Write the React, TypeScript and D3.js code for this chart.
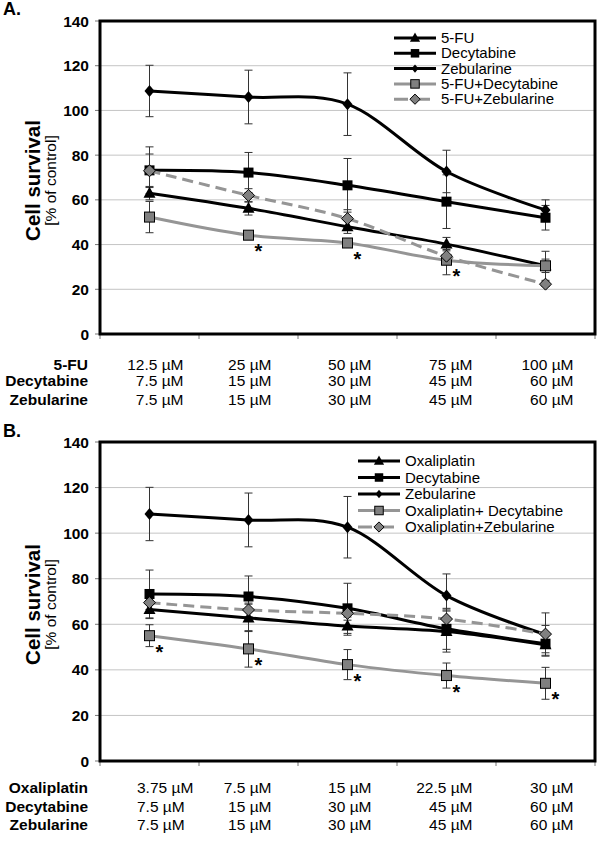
import React from "react";
import * as d3 from "d3";

// ---------- Data ----------
const dosesFU = ["12.5 µM", "25 µM", "50 µM", "75 µM", "100 µM"];
const dosesOxa = ["3.75 µM", "7.5 µM", "15 µM", "22.5 µM", "30 µM"];
const dosesDec = ["7.5 µM", "15 µM", "30 µM", "45 µM", "60 µM"];
const dosesZeb = ["7.5 µM", "15 µM", "30 µM", "45 µM", "60 µM"];

const yTicks = [0, 20, 40, 60, 80, 100, 120, 140];

// Panel A
const aNames = ["5-FU", "Decytabine", "Zebularine", "5-FU+Decytabine", "5-FU+Zebularine"];
const aFU = [63, 56.2, 48, 40.2, 30.5];
const aFUErr = [3, 3, 3, 3, 3];
const aDec = [73.2, 72.2, 66.5, 59.2, 52];
const aDecErr = [10.5, 9, 12, 12, 5.5];
const aZeb = [108.7, 106, 102.8, 72.7, 55.5];
const aZebErr = [11.5, 12, 14, 9.5, 4.5];
const aFUDec = [52.3, 44.2, 40.7, 33, 30.5];
const aFUDecErr = [7, 1.5, 1.5, 6.5, 6.5];
const aFUZeb = [73, 62, 51.6, 34.8, 22.3];
const aFUZebErr = [7.5, 3, 4, 3, 1];
const aStars = [false, true, true, true, false];

// Panel B
const bNames = ["Oxaliplatin", "Decytabine", "Zebularine", "Oxaliplatin+ Decytabine", "Oxaliplatin+Zebularine"];
const bOxa = [66.5, 62.8, 59.2, 56.8, 51];
const bOxaErr = [4, 6, 4, 9, 5];
const bDec = [73.3, 72.2, 67, 58, 51.5];
const bDecErr = [10.5, 9, 11, 9, 4];
const bZeb = [108.4, 105.8, 102.6, 72.6, 55.5];
const bZebErr = [11.7, 11.8, 13.5, 9.5, 4];
const bOxaDec = [55, 49.2, 42.3, 37.5, 34.1];
const bOxaDecErr = [4.8, 8, 6.6, 5.5, 7];
const bOxaZeb = [69.5, 66.3, 64.8, 62.3, 55.7];
const bOxaZebErr = [3, 3, 3, 4, 9.3];
const bStars = [true, true, true, true, true];

// ---------- Styles ----------
const FONT = "'Liberation Sans', Arial, Helvetica, sans-serif";
const GRAY_LINE = "#959595";
const GRAY_FILL = "#808080";

type Marker = "tri" | "sq" | "dia" | "gsq" | "gdia";
interface Series {
  name: string;
  values: number[];
  errs: number[];
  marker: Marker;
  color: string;
  dash?: string;
}

function MarkerShape({ kind, x, y, s = 1 }: { kind: Marker; x: number; y: number; s?: number }) {
  if (kind === "tri") {
    const p = `M${x},${y - 6.5 * s}L${x + 6 * s},${y + 4.5 * s}L${x - 6 * s},${y + 4.5 * s}Z`;
    return <path d={p} fill="#000" />;
  }
  if (kind === "sq") {
    const h = 5 * s;
    return <rect x={x - h} y={y - h} width={2 * h} height={2 * h} fill="#000" />;
  }
  if (kind === "dia") {
    const p = `M${x},${y - 6 * s}L${x + 5 * s},${y}L${x},${y + 6 * s}L${x - 5 * s},${y}Z`;
    return <path d={p} fill="#000" />;
  }
  if (kind === "gsq") {
    const h = 5 * s;
    return <rect x={x - h} y={y - h} width={2 * h} height={2 * h} fill={GRAY_FILL} stroke="#000" strokeWidth={1} />;
  }
  const p = `M${x},${y - 6 * s}L${x + 6 * s},${y}L${x},${y + 6 * s}L${x - 6 * s},${y}Z`;
  return <path d={p} fill={GRAY_FILL} stroke="#000" strokeWidth={1} />;
}

interface PanelProps {
  letter: string;
  letterY: number;
  top: number;
  bottom: number;
  series: Series[];
  starSeries: number;
  stars: boolean[];
  legendX: number;
  legendY: number;
  legendStep: number;
  tableRows: { label: string; vals: string[] }[];
  tableY: number[];
  firstColStart: boolean;
}

function Panel(p: PanelProps) {
  const left = 100;
  const right = 595;
  const x = d3.scaleBand<number>().domain(d3.range(5)).range([left, right]);
  const cx = (i: number) => (x(i) as number) + x.bandwidth() / 2;
  const y = d3.scaleLinear().domain([0, 140]).range([p.bottom, p.top]);
  const line = d3
    .line<number>()
    .x((_, i) => cx(i))
    .y((d) => y(d))
    .curve(d3.curveCardinal.tension(0));
  const colOffsets = [34, 23, 24, 26, 28];
  const midY = (p.top + p.bottom) / 2 + 3;
  const ss = p.series[p.starSeries];

  return (
    <g>
      <text x={3} y={p.letterY} fontFamily={FONT} fontWeight="bold" fontSize={18}>
        {p.letter}
      </text>
      {/* grid */}
      {yTicks.map((t) => (
        <g key={t}>
          {t > 0 && t < 140 && (
            <line x1={left} x2={right} y1={y(t)} y2={y(t)} stroke="#c4c4c4" strokeWidth={1} />
          )}
          <line x1={left - 5} x2={left} y1={y(t)} y2={y(t)} stroke="#777" strokeWidth={1} />
          <text
            x={89}
            y={y(t) + 5.5}
            textAnchor="end"
            fontFamily={FONT}
            fontWeight="bold"
            fontSize={15.5}
          >
            {t}
          </text>
        </g>
      ))}
      {d3.range(6).map((i) => {
        const xx = i < 5 ? (x(i) as number) : right;
        return <line key={i} x1={xx} x2={xx} y1={p.bottom} y2={p.bottom + 5} stroke="#777" strokeWidth={1} />;
      })}
      {/* y title */}
      <g transform={`translate(40,${midY}) rotate(-90)`}>
        <text textAnchor="middle" fontFamily={FONT} fontWeight="bold" fontSize={20.5}>
          Cell survival
        </text>
      </g>
      <g transform={`translate(56,${midY}) rotate(-90)`}>
        <text textAnchor="middle" fontFamily={FONT} fontSize={15.5}>
          [% of control]
        </text>
      </g>
      {/* error bars */}
      {p.series.map((s, si) =>
        s.values.map((v, i) => {
          const xx = cx(i);
          const y1 = y(v - s.errs[i]);
          const y2 = y(v + s.errs[i]);
          return (
            <g key={`${si}-${i}`} stroke="#333" strokeWidth={1}>
              <line x1={xx} x2={xx} y1={y1} y2={y2} />
              <line x1={xx - 4} x2={xx + 4} y1={y1} y2={y1} />
              <line x1={xx - 4} x2={xx + 4} y1={y2} y2={y2} />
            </g>
          );
        })
      )}
      {/* lines + markers */}
      {p.series.map((s, si) => (
        <g key={si}>
          <path
            d={line(s.values) as string}
            fill="none"
            stroke={s.color}
            strokeWidth={3}
            strokeDasharray={s.dash}
          />
          {s.values.map((v, i) => (
            <MarkerShape key={i} kind={s.marker} x={cx(i)} y={y(v)} />
          ))}
        </g>
      ))}
      {/* significance stars */}
      {p.stars.map((st, i) =>
        st ? (
          <text
            key={i}
            x={cx(i) + 10}
            y={y(ss.values[i]) + 23}
            textAnchor="middle"
            fontFamily={FONT}
            fontWeight="bold"
            fontSize={20}
          >
            *
          </text>
        ) : null
      )}
      {/* frame */}
      <rect
        x={left}
        y={p.top}
        width={right - left}
        height={p.bottom - p.top}
        fill="none"
        stroke="#000"
        strokeWidth={3}
      />
      {/* legend */}
      {p.series.map((s, si) => {
        const ly = p.legendY + si * p.legendStep;
        return (
          <g key={si}>
            <line
              x1={p.legendX}
              x2={p.legendX + 42}
              y1={ly}
              y2={ly}
              stroke={s.color}
              strokeWidth={3}
              strokeDasharray={s.dash ? "14,8" : undefined}
            />
            <MarkerShape kind={s.marker} x={p.legendX + 21} y={ly} s={s.marker === "dia" ? 0.7 : 0.85} />
            <text x={p.legendX + 47} y={ly + 5} fontFamily={FONT} fontSize={15}>
              {s.name}
            </text>
          </g>
        );
      })}
      {/* dose table */}
      {p.tableRows.map((r, ri) => (
        <g key={ri}>
          <text
            x={88}
            y={p.tableY[ri]}
            textAnchor="end"
            fontFamily={FONT}
            fontWeight="bold"
            fontSize={15.5}
          >
            {r.label}
          </text>
          {r.vals.map((v, i) => {
            const start = i === 0 && p.firstColStart;
            return (
              <text
                key={i}
                x={start ? cx(i) - 12.5 : cx(i) + colOffsets[i]}
                y={p.tableY[ri]}
                textAnchor={start ? "start" : "end"}
                fontFamily={FONT}
                fontSize={15.5}
              >
                {v}
              </text>
            );
          })}
        </g>
      ))}
    </g>
  );
}

export default function App() {
  const seriesA: Series[] = [
    { name: aNames[0], values: aFU, errs: aFUErr, marker: "tri", color: "#000" },
    { name: aNames[1], values: aDec, errs: aDecErr, marker: "sq", color: "#000" },
    { name: aNames[2], values: aZeb, errs: aZebErr, marker: "dia", color: "#000" },
    { name: aNames[3], values: aFUDec, errs: aFUDecErr, marker: "gsq", color: GRAY_LINE },
    { name: aNames[4], values: aFUZeb, errs: aFUZebErr, marker: "gdia", color: GRAY_LINE, dash: "11,6" },
  ];
  const seriesB: Series[] = [
    { name: bNames[0], values: bOxa, errs: bOxaErr, marker: "tri", color: "#000" },
    { name: bNames[1], values: bDec, errs: bDecErr, marker: "sq", color: "#000" },
    { name: bNames[2], values: bZeb, errs: bZebErr, marker: "dia", color: "#000" },
    { name: bNames[3], values: bOxaDec, errs: bOxaDecErr, marker: "gsq", color: GRAY_LINE },
    { name: bNames[4], values: bOxaZeb, errs: bOxaZebErr, marker: "gdia", color: GRAY_LINE, dash: "11,6" },
  ];
  return (
    <svg
      width={600}
      height={843}
      style={{ position: "absolute", left: 0, top: 0, background: "#fff" }}
    >
      <rect width={600} height={843} fill="#fff" />
      <Panel
        letter="A."
        letterY={15}
        top={21}
        bottom={334}
        series={seriesA}
        starSeries={3}
        stars={aStars}
        legendX={394}
        legendY={38}
        legendStep={15.3}
        tableRows={[
          { label: "5-FU", vals: dosesFU },
          { label: "Decytabine", vals: dosesDec },
          { label: "Zebularine", vals: dosesZeb },
        ]}
        tableY={[370, 386, 405]}
        firstColStart={false}
      />
      <Panel
        letter="B."
        letterY={437}
        top={442}
        bottom={761}
        series={seriesB}
        starSeries={3}
        stars={bStars}
        legendX={358}
        legendY={461}
        legendStep={16.5}
        tableRows={[
          { label: "Oxaliplatin", vals: dosesOxa },
          { label: "Decytabine", vals: dosesDec },
          { label: "Zebularine", vals: dosesZeb },
        ]}
        tableY={[793, 812, 830]}
        firstColStart={true}
      />
    </svg>
  );
}
